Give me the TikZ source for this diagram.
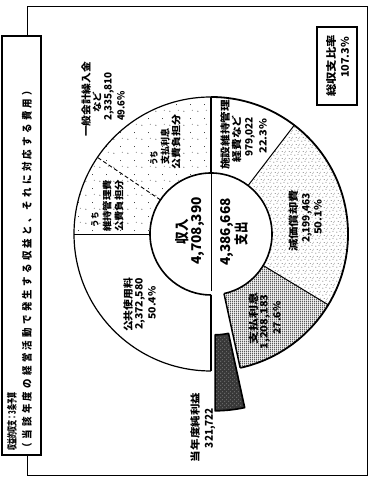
\documentclass[tikz,border=0pt]{standalone}
\usepackage{fontspec}
\usepackage{graphicx}
\newfontfamily\jp{Noto Sans CJK JP}
\usetikzlibrary{patterns}
\pgfdeclarepatternformonly{sparsedots}{\pgfpointorigin}{\pgfpoint{14pt}{14pt}}{\pgfpoint{14pt}{14pt}}{%
  \pgfpathcircle{\pgfpoint{2pt}{3pt}}{0.5pt}%
  \pgfpathcircle{\pgfpoint{9pt}{10pt}}{0.45pt}%
  \pgfpathcircle{\pgfpoint{11pt}{4pt}}{0.4pt}%
  \pgfusepath{fill}}
\pgfdeclarepatternformonly{speckle}{\pgfpointorigin}{\pgfpoint{7pt}{7pt}}{\pgfpoint{7pt}{7pt}}{%
  \pgfpathcircle{\pgfpoint{1pt}{1pt}}{0.45pt}%
  \pgfpathcircle{\pgfpoint{4.5pt}{2pt}}{0.4pt}%
  \pgfpathcircle{\pgfpoint{2.5pt}{5pt}}{0.45pt}%
  \pgfpathcircle{\pgfpoint{6pt}{5.5pt}}{0.35pt}%
  \pgfpathcircle{\pgfpoint{5.5pt}{3.8pt}}{0.3pt}%
  \pgfusepath{fill}}
\pgfdeclarepatternformonly{vbars}{\pgfpointorigin}{\pgfpoint{2.2pt}{2pt}}{\pgfpoint{2.2pt}{2pt}}{%
  \pgfpathrectangle{\pgfpoint{0.5pt}{0pt}}{\pgfpoint{1.2pt}{2pt}}%
  \pgfusepath{fill}}
\pgfdeclarepatternformonly{darkspeck}{\pgfpointorigin}{\pgfpoint{4pt}{4pt}}{\pgfpoint{4pt}{4pt}}{%
  \pgfpathcircle{\pgfpoint{1pt}{1pt}}{0.45pt}%
  \pgfpathcircle{\pgfpoint{3pt}{2.6pt}}{0.35pt}%
  \pgfusepath{fill}}
\newcommand\fitt[3]{\resizebox{#1pt}{#2pt}{\jp\bfseries #3}}
\begin{document}
\begin{tikzpicture}[x=1pt,y=1pt,
  lab/.style={rotate=90,inner sep=0pt,anchor=center},
  frameline/.style={line width=0.9pt},
  divline/.style={line width=1pt}]
\useasboundingbox (0,0) rectangle (369,478);
\fill[white] (0,0) rectangle (369,478);
% outer frame and title box
\draw[frameline] (27,442) -- (27,472) -- (367.5,472) -- (367.5,3) -- (27,3) -- (27,23);
\draw[line width=1.3pt] (2,23) rectangle (41,442);
\node[lab] (t1) at (12,56.5) {\fitt{58}{9}{収益的収支：3条予算}};
\node[lab] (t2) at (27,209) {\fitt{366}{9}{\addfontfeature{LetterSpace=35}（当該年度の経営活動で発生する収益と、それに対応する費用）}};
% ratio box
\draw[line width=1.3pt] (317,373) rectangle (357,451);
\node[lab] (r1) at (332,412) {\fitt{62}{9}{総収支比率}};
\node[lab] (r2) at (345,420.5) {\fitt{41}{8}{107.3\%}};
% ring
\begin{scope}[shift={(211,244)}]
\coordinate (c) at (0,0);
\fill[pattern=sparsedots] (90:137) arc[start angle=90,end angle=180,radius=137] -- (180:61) arc[start angle=180,end angle=90,radius=61] -- cycle;
\fill[pattern=speckle] (52.57:137) arc[start angle=52.57,end angle=-31.13,radius=137] -- (-31.13:61) arc[start angle=-31.13,end angle=52.57,radius=61] -- cycle;
\fill[pattern=vbars] (-31.13:137) arc[start angle=-31.13,end angle=-77.7,radius=137] -- (-77.7:61) arc[start angle=-77.7,end angle=-31.13,radius=61] -- cycle;
\draw[line width=1.2pt] (90:137) arc[start angle=90,end angle=270,radius=137];
\draw[line width=1.8pt] (90:137) arc[start angle=90,end angle=-77.7,radius=137];
\draw[line width=1.6pt] (-77.7:61) arc[start angle=-77.7,end angle=270,radius=61];
\draw[line width=1.2pt] (90:61) -- (90:137);
\draw[line width=0.9pt] (90:61) -- (270:57);
\draw[line width=0.8pt] (180:61) -- (180:137);
\draw[line width=1.8pt] (270:61) -- (270:137);
\draw[divline] (52.57:61) -- (52.57:137);
\draw[divline] (-31.13:61) -- (-31.13:137);
\draw[line width=1.5pt] (-77.7:61) -- (-77.7:137);
\draw[line width=0.9pt,dash pattern=on 4pt off 2.5pt] (146:61) -- (146:137);
\end{scope}
% exploded profit wedge
\begin{scope}[shift={(215.07,206.2)}]
\filldraw[fill=black!78,line width=1.6pt,line join=round] (-90:63) arc[start angle=-90,end angle=-77.7,radius=63] -- (-77.7:139) arc[start angle=-77.7,end angle=-90,radius=139] -- cycle;
\fill[pattern=darkspeck,pattern color=white] (-90:65) arc[start angle=-90,end angle=-78.5,radius=65] -- (-78.5:137) arc[start angle=-78.5,end angle=-90,radius=137] -- cycle;
\end{scope}
% labels
\node[lab] (g1) at (86,378.5) {\fitt{75}{8.5}{一般会計繰入金}};
\node[lab] (g2) at (97,375.5) {\fitt{21}{8}{など}};
\node[lab] (g3) at (109,381.5) {\fitt{49}{7.5}{2,335,810}};
\node[lab] (g4) at (121,372) {\fitt{30}{7.5}{49.6\%}};
\node[lab] (s1) at (154,319.5) {\fitt{15}{7}{うち}};
\node[lab] (s2) at (165,331) {\fitt{36}{8}{支払利息}};
\node[lab] (s3) at (176,336) {\fitt{55}{8}{公費負担分}};
\node[lab] (m1) at (95,258) {\fitt{15}{7}{うち}};
\node[lab] (m2) at (107,272) {\fitt{52}{8}{維持管理費}};
\node[lab] (m3) at (119,272) {\fitt{52}{8}{公費負担分}};
\node[lab] (f1) at (225,343) {\fitt{70}{8.5}{施設維持管理}};
\node[lab] (f2) at (236.5,339) {\fitt{47}{8.5}{経費など}};
\node[lab] (f3) at (250,341) {\fitt{40}{7.5}{979,022}};
\node[lab] (f4) at (263,342) {\fitt{35}{7.5}{22.3\%}};
\node[lab] (d1) at (294,257) {\fitt{62}{8.5}{減価償却費}};
\node[lab] (d2) at (307,260) {\fitt{50}{7.5}{2,199,463}};
\node[lab] (d3) at (318,260.5) {\fitt{35}{7.5}{50.1\%}};
\node[lab] (p1) at (254,159) {\fitt{52}{8.5}{支払利息}};
\node[lab] (p2) at (265,156) {\fitt{55}{7.5}{1,208,183}};
\node[lab] (p3) at (277,160) {\fitt{33}{7.5}{27.6\%}};
\node[lab] (k1) at (128,173) {\fitt{54}{8.5}{公共使用料}};
\node[lab] (k2) at (140,174) {\fitt{52}{7.5}{2,372,580}};
\node[lab] (k3) at (152,175) {\fitt{33}{7.5}{50.4\%}};
\node[lab] (c1) at (182,246) {\fitt{25}{12}{収入}};
\node[lab] (c2) at (198,247) {\fitt{68}{10}{4,708,390}};
\node[lab] (c3) at (227,246) {\fitt{68}{10}{4,386,668}};
\node[lab] (c4) at (241,244) {\fitt{23}{12}{支出}};
\node[lab] (n1) at (195,50.5) {\fitt{69}{8.5}{当年度純利益}};
\node[lab] (n2) at (210,50) {\fitt{40}{8}{321,722}};
\end{tikzpicture}
\end{document}
